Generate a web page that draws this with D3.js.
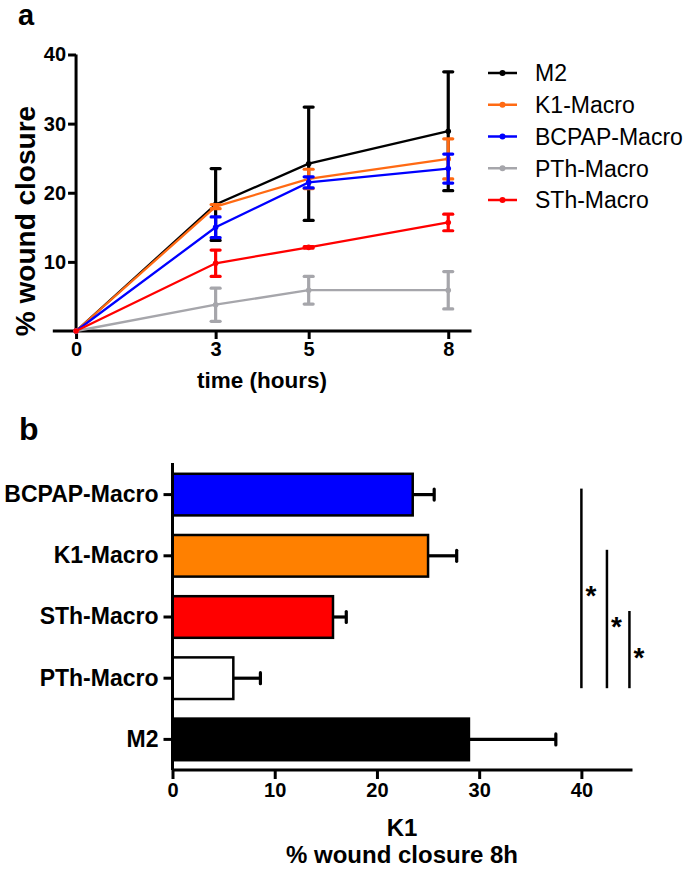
<!DOCTYPE html>
<html>
<head>
<meta charset="utf-8">
<script src="https://cdn.jsdelivr.net/npm/d3@7"></script>
<style>
  html, body { margin: 0; padding: 0; background: #fff; }
  svg { display: block; font-family: "Liberation Sans", Arial, Helvetica, sans-serif; }
</style>
</head>
<body>
<script>
// ---------- DATA ----------
const times = [0, 3, 5, 8];
const xTicksA = [0, 3, 5, 8];
const yTicksA = [10, 20, 30, 40];

const seriesNames = ["M2", "K1-Macro", "BCPAP-Macro", "PTh-Macro", "STh-Macro"];
const seriesColors = ["#000000", "#ff6a13", "#0000ff", "#a6a6ab", "#ff0000"];

const m2Mean     = [0, 18.3, 24.2, 28.9];
const m2Err      = [0, 5.2, 8.2, 8.6];
const k1Mean     = [0, 18.0, 22.0, 24.9];
const k1Err      = [0, 0.3, 1.4, 2.9];
const bcpapMean  = [0, 15.0, 21.5, 23.5];
const bcpapErr   = [0, 1.5, 0.8, 2.1];
const pthMean    = [0, 3.8, 5.9, 5.9];
const pthErr     = [0, 2.4, 2.0, 2.7];
const sthMean    = [0, 9.8, 12.1, 15.7];
const sthErr     = [0, 1.9, 0.1, 1.2];

const barCategories = ["BCPAP-Macro", "K1-Macro", "STh-Macro", "PTh-Macro", "M2"];
const barValues     = [23.5, 25.0, 15.7, 5.95, 29.0];
const barErrors     = [2.1, 2.8, 1.3, 2.65, 8.5];
const barColors     = ["#0000ff", "#ff8000", "#ff0000", "#ffffff", "#000000"];
const xTicksB       = [0, 10, 20, 30, 40];

// significance brackets: [from category, to category, x position (value)]
const sigFrom = ["BCPAP-Macro", "K1-Macro", "STh-Macro"];
const sigTo   = ["PTh-Macro", "PTh-Macro", "PTh-Macro"];
const sigX    = [40.0, 42.5, 44.7];
const sigLabel = ["*", "*", "*"];

// ---------- SETUP ----------
const W = 685, H = 869;
const svg = d3.select("body").append("svg").attr("width", W).attr("height", H);

const means = [m2Mean, k1Mean, bcpapMean, pthMean, sthMean];
const errs  = [m2Err, k1Err, bcpapErr, pthErr, sthErr];

// ---------- PANEL A ----------
const xA = d3.scaleLinear().domain([-0.5, 8.5]).range([52.8, 471.5]);
const yA = d3.scaleLinear().domain([0, 40]).range([331, 54.5]);

const gA = svg.append("g");

svg.append("text").attr("x", 18).attr("y", 25)
  .attr("font-size", 29).attr("font-weight", "bold").text("a");

// x axis line (full width)
gA.append("line").attr("x1", xA(-0.5)).attr("x2", xA(8.5))
  .attr("y1", yA(0)).attr("y2", yA(0))
  .attr("stroke", "#000").attr("stroke-width", 3);
// y axis line
gA.append("line").attr("x1", xA(0)).attr("x2", xA(0))
  .attr("y1", yA(0)).attr("y2", yA(40))
  .attr("stroke", "#000").attr("stroke-width", 3);

const xAxisA = d3.axisBottom(xA).tickValues(xTicksA).tickSize(8).tickPadding(3).tickFormat(d3.format("d"));
const gxA = gA.append("g").attr("transform", `translate(0,${yA(0)})`).call(xAxisA);
gxA.select(".domain").remove();
gxA.selectAll(".tick line").attr("stroke", "#000").attr("stroke-width", 3);
gxA.selectAll(".tick text").attr("font-size", 20).attr("font-weight", "bold")
  .attr("font-family", "Liberation Sans, Arial, sans-serif").attr("fill", "#000");

const yAxisA = d3.axisLeft(yA).tickValues(yTicksA).tickSize(8).tickPadding(2).tickFormat(d3.format("d"));
const gyA = gA.append("g").attr("transform", `translate(${xA(0)},0)`).call(yAxisA);
gyA.select(".domain").remove();
gyA.selectAll(".tick line").attr("stroke", "#000").attr("stroke-width", 3);
gyA.selectAll(".tick text").attr("font-size", 20).attr("font-weight", "bold")
  .attr("font-family", "Liberation Sans, Arial, sans-serif").attr("fill", "#000");

// axis titles
gA.append("text").attr("x", 262).attr("y", 388).attr("text-anchor", "middle")
  .attr("font-size", 22.5).attr("font-weight", "bold").text("time (hours)");
gA.append("text").attr("transform", "translate(35,221) rotate(-90)")
  .attr("text-anchor", "middle").attr("font-size", 28).attr("font-weight", "bold")
  .text("% wound closure");

// series
const lineGen = d3.line().x((d, i) => xA(times[i])).y(d => yA(d));
seriesNames.forEach((name, s) => {
  const g = gA.append("g");
  const col = seriesColors[s];
  // error bars
  means[s].forEach((m, i) => {
    const e = errs[s][i];
    if (e <= 0) return;
    const x = xA(times[i]);
    g.append("line").attr("x1", x).attr("x2", x).attr("y1", yA(m - e)).attr("y2", yA(m + e))
      .attr("stroke", col).attr("stroke-width", 3.2);
    [m - e, m + e].forEach(v => {
      g.append("line").attr("x1", x - 4.5).attr("x2", x + 4.5).attr("y1", yA(v)).attr("y2", yA(v))
        .attr("stroke", col).attr("stroke-width", 3.2).attr("stroke-linecap", "round");
    });
  });
  g.append("path").datum(means[s]).attr("d", lineGen)
    .attr("fill", "none").attr("stroke", col).attr("stroke-width", 2.3);
  g.selectAll("circle").data(means[s]).join("circle")
    .attr("cx", (d, i) => xA(times[i])).attr("cy", d => yA(d)).attr("r", 2.8).attr("fill", col);
});

// legend
const legY = d3.scalePoint().domain(seriesNames).range([73, 200]);
seriesNames.forEach((name, s) => {
  const y = legY(name);
  svg.append("line").attr("x1", 488).attr("x2", 517).attr("y1", y).attr("y2", y)
    .attr("stroke", seriesColors[s]).attr("stroke-width", 2.5);
  svg.append("circle").attr("cx", 502.5).attr("cy", y).attr("r", 3).attr("fill", seriesColors[s]);
  svg.append("text").attr("x", 535).attr("y", y).attr("dy", "0.36em")
    .attr("font-size", 23).text(name);
});

// ---------- PANEL B ----------
svg.append("text").attr("x", 19).attr("y", 440)
  .attr("font-size", 32).attr("font-weight", "bold").text("b");

const xB = d3.scaleLinear().domain([0, 45]).range([172.5, 632.5]);
const yB = d3.scaleBand().domain(barCategories).range([464, 770]).paddingInner(0.32).paddingOuter(0.16);

const gB = svg.append("g");

// bars
barCategories.forEach((c, i) => {
  const y0 = yB(c), bh = yB.bandwidth(), yc = y0 + bh / 2;
  const xe = xB(barValues[i]), xr = xB(barValues[i] + barErrors[i]);
  gB.append("line").attr("x1", xe).attr("x2", xr).attr("y1", yc).attr("y2", yc)
    .attr("stroke", "#000").attr("stroke-width", 3.2);
  gB.append("line").attr("x1", xr).attr("x2", xr).attr("y1", yc - 5.5).attr("y2", yc + 5.5)
    .attr("stroke", "#000").attr("stroke-width", 3.2).attr("stroke-linecap", "round");
  gB.append("rect").attr("x", xB(0)).attr("y", y0).attr("width", xe - xB(0)).attr("height", bh)
    .attr("fill", barColors[i]).attr("stroke", "#000").attr("stroke-width", 2.5);
});

// axes
gB.append("line").attr("x1", xB(0)).attr("x2", xB(45)).attr("y1", 770).attr("y2", 770)
  .attr("stroke", "#000").attr("stroke-width", 3);
gB.append("line").attr("x1", xB(0)).attr("x2", xB(0)).attr("y1", 463).attr("y2", 770)
  .attr("stroke", "#000").attr("stroke-width", 3);

const xAxisB = d3.axisBottom(xB).tickValues(xTicksB).tickSize(9).tickPadding(4).tickFormat(d3.format("d"));
const gxB = gB.append("g").attr("transform", "translate(0,770)").call(xAxisB);
gxB.select(".domain").remove();
gxB.selectAll(".tick line").attr("stroke", "#000").attr("stroke-width", 3);
gxB.selectAll(".tick text").attr("font-size", 20).attr("font-weight", "bold")
  .attr("font-family", "Liberation Sans, Arial, sans-serif").attr("fill", "#000");

const yAxisB = d3.axisLeft(yB).tickSize(9).tickPadding(5);
const gyB = gB.append("g").attr("transform", `translate(${xB(0)},0)`).call(yAxisB);
gyB.select(".domain").remove();
gyB.selectAll(".tick line").attr("stroke", "#000").attr("stroke-width", 3);
gyB.selectAll(".tick text").attr("font-size", 23).attr("font-weight", "bold")
  .attr("font-family", "Liberation Sans, Arial, sans-serif").attr("fill", "#000");

// significance lines
sigX.forEach((v, i) => {
  const top = yB(sigFrom[i]) + yB.bandwidth() / 2 - 6;
  const bot = yB(sigTo[i]) + yB.bandwidth() / 2 + 10;
  gB.append("line").attr("x1", xB(v)).attr("x2", xB(v)).attr("y1", top).attr("y2", bot)
    .attr("stroke", "#000").attr("stroke-width", 2.5);
  gB.append("text").attr("x", xB(v) + 4).attr("y", (top + bot) / 2 + 17)
    .attr("font-size", 28).attr("font-weight", "bold").text(sigLabel[i]);
});

// x title
gB.append("text").attr("x", 402).attr("y", 836).attr("text-anchor", "middle")
  .attr("font-size", 24).attr("font-weight", "bold").text("K1");
gB.append("text").attr("x", 402).attr("y", 863).attr("text-anchor", "middle")
  .attr("font-size", 24).attr("font-weight", "bold").text("% wound closure 8h");
</script>
</body>
</html>
